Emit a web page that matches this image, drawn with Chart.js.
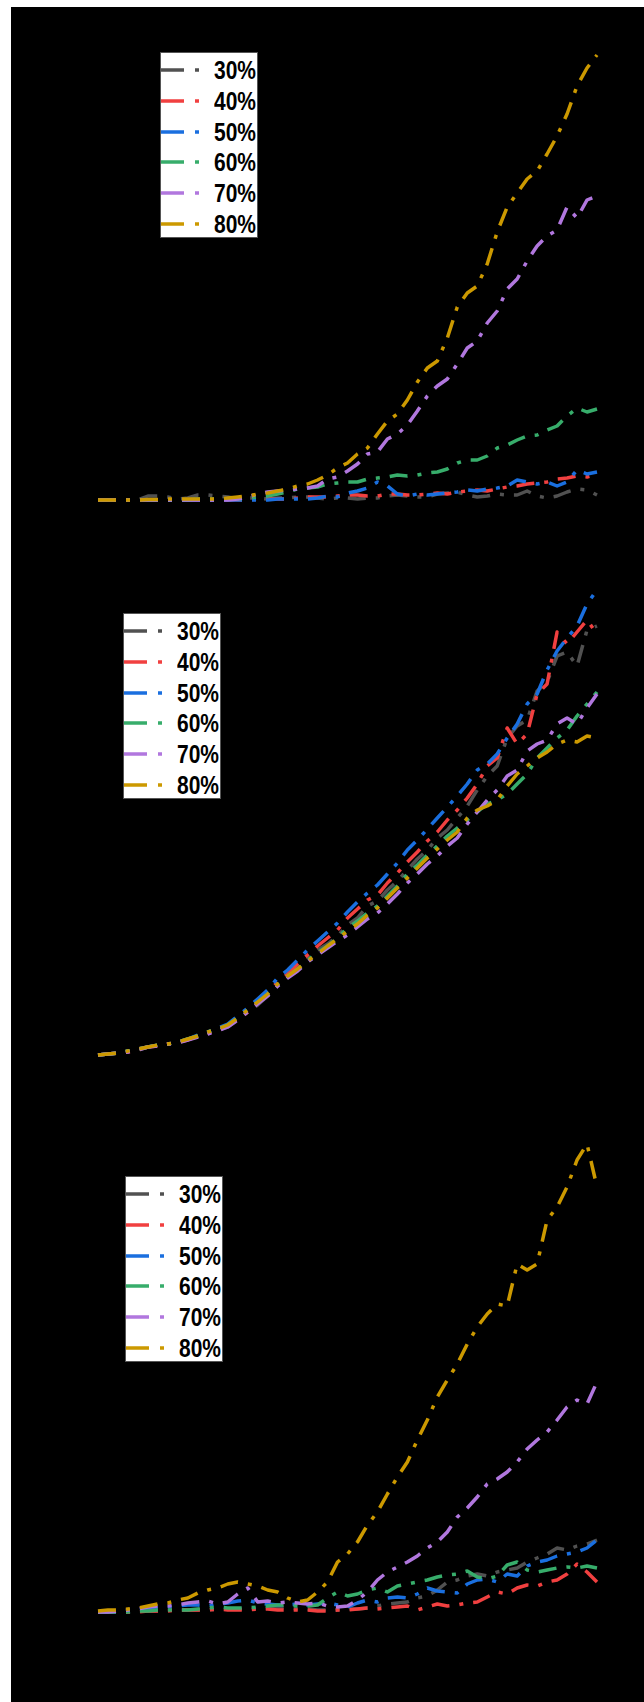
<!DOCTYPE html>
<html>
<head>
<meta charset="utf-8">
<script src="https://cdn.jsdelivr.net/npm/chart.js@4.4.1/dist/chart.umd.min.js"></script>
<style>
  html, body { margin:0; padding:0; background:#fff; width:644px; height:1702px; overflow:hidden; }
  #bg { position:absolute; left:11px; top:7px; width:633px; height:1695px; background:#000; }
  canvas.pc { position:absolute; left:0; }
  .lg { position:absolute; background:#fff; border:1px solid #555; box-sizing:border-box; width:98px; height:186px; }
  .lg svg { position:absolute; left:0; }
  .lg span { position:absolute; font-family:"Liberation Sans", Arial, sans-serif; font-weight:bold; font-size:25px; line-height:25px; color:#000; transform:scaleX(0.84); transform-origin:0 0; white-space:nowrap; }
</style>
</head>
<body>
<div id="bg"></div>
<canvas id="c1" class="pc" width="644" height="556" style="top:0px"></canvas>
<canvas id="c2" class="pc" width="644" height="556" style="top:556px"></canvas>
<canvas id="c3" class="pc" width="644" height="590" style="top:1112px"></canvas>
<script>
// ---- data ----
const steps = [0,10,20,30,40,50,60,70,80,90,100,110,120,130,140,150,160,170,180,190,200,210,220,230,240,250,260,270,280,290,300,310,320,330,340,350,360,370,380,390,400,410,420,430,440,450,460,470,480,490,500];
const seriesLabels = ["30%","40%","50%","60%","70%","80%"];
const seriesColors = ["#515151","#F14040","#1A6FDF","#37AD6B","#B177DE","#CC9900"];

// panel 1
const p1_30 = [0,0,0,0,0,4,4,3,1,2,5,5,4,3,1,2,2,1,2,2,3,3,2,1,2,2,1,2,2,4,5,4,3,3,6,7,8,5,3,4,6,5,5,9,4,2,4,8,11,10,5];
const p1_40 = [0,0,0,0,0,0,0,0,0,0,0,0,0,0,0,0,1,1,1,1,2,3,3,3,4,5,5,4,4,6,6,5,5,6,7,6,8,9,10,9,11,13,14,16,17,18,21,22,24,23,26];
const p1_50 = [0,0,0,0,0,0,0,0,0,0,0,0,0,0,0,0,0,0,1,1,1,1,2,4,3,7,9,12,18,14,6,4,6,5,6,7,8,10,9,11,12,14,20,18,16,18,14,18,30,26,28];
const p1_60 = [0,0,0,0,0,0,0,0,0,0,1,1,1,1,1,2,3,4,6,8,11,12,13,16,17,18,18,21,22,23,25,24,25,27,28,31,37,40,40,44,52,55,60,64,65,70,74,84,92,88,91];
const p1_70 = [0,0,0,0,0,0,0,0,0,0,0,0,0,0,1,3,6,8,9,10,11,12,14,21,23,29,36,46,48,61,66,75,89,104,114,121,136,152,159,177,189,211,221,239,254,264,270,293,282,300,304];
const p1_80 = [0,0,0,0,0,0.5,0.5,1,1,1,1,1,1,2,3,4,6,7,9,11,14,16,20,25,32,37,46,52,66,79,86,100,118,132,139,162,193,207,214,236,268,293,307,321,329,346,364,386,414,432,445];

// panel 2
const p2_30 = [1,2,3,5,6,9,11,12,13,17,19,23,26,29,36,44,51,60,70,79,88,97,106,112,120,131,138,150,155,166,175,186,197,206,218,226,238,250,266,280,290,318,330,336,365,374,400,404,390,426,430];
const p2_40 = [1,2,3,4,7,9,10,12,14,16,20,23,26,30,37,44,53,63,74,82,92,101,110,118,126,138,147,156,161,173,183,194,204,215,224,236,246,258,272,290,298,328,312,322,362,372,424,412,424,436,422];
const p2_50 = [1,2,3,5,7,9,11,12,14,17,21,24,28,32,40,48,57,66,78,86,96,106,115,124,133,144,154,163,171,182,193,206,216,227,238,249,260,272,286,292,302,318,332,352,362,386,405,418,430,452,466];
const p2_60 = [1,2,3,5,7,9,11,12,14,17,20,24,27,31,38,46,54,62,72,80,87,96,103,110,118,128,135,143,150,160,170,182,191,201,210,220,228,236,244,252,256,262,272,282,298,308,318,326,340,352,364];
const p2_70 = [1,2,3,4,6,9,10,12,13,16,19,22,25,29,36,44,52,60,70,78,85,94,101,108,115,121,129,137,143,152,162,173,182,192,200,210,218,232,244,256,266,280,286,305,312,316,332,338,332,348,362];
const p2_80 = [1,2,3,5,7,9,11,12,14,17,20,24,27,31,38,46,54,62,72,80,87,95,102,110,117,125,132,141,148,158,168,178,188,198,207,216,224,238,246,250,256,270,282,290,298,304,312,316,314,320,318];

// panel 3
const p3_30 = [0,0,0,0,1,1,1,2,2,2,2,2,3,3,3,3,4,4,5,4,3,3,2,2,2,3,3,4,6,8,9,10,14,16,22,30,32,36,38,36,40,42,44,50,54,58,64,62,66,68,72];
const p3_40 = [0,0,0,0,0,1,1,1,2,2,2,2,3,2,2,2,3,3,2,2,2,2,1,1,2,2,3,4,3,4,5,6,2,5,8,6,7,9,10,15,20,18,24,27,26,30,32,38,48,40,30];
const p3_50 = [0,0,0,1,2,3,4,5,6,7,7,6,8,9,11,12,9,8,7,7,8,7,8,9,7,5,9,12,10,14,15,14,18,24,21,20,19,28,32,33,30,38,36,46,50,52,56,58,60,64,72];
const p3_60 = [0,0,0,0,1,1,2,2,2,2,3,4,5,4,4,4,5,6,7,7,6,6,7,14,20,16,18,22,24,20,26,28,30,32,35,37,38,41,35,33,36,47,50,42,40,42,44,45,44,46,44];
const p3_70 = [0,0,1,2,3,5,6,6,7,9,10,11,8,10,18,24,10,11,9,10,9,8,9,6,5,6,12,20,32,40,45,50,56,64,70,80,95,104,115,128,133,140,150,163,172,180,192,205,212,208,230];
const p3_80 = [1,2,2,3,4,6,8,9,12,14,19,22,24,28,30,28,26,22,20,14,10,12,20,30,50,58,70,87,100,118,135,150,172,192,215,232,248,268,285,298,308,306,348,342,348,392,405,425,452,468,425];

// ---- charts ----
const panels = [
  { id:"c1", series:[p1_30,p1_40,p1_50,p1_60,p1_70,p1_80], yMax:460, pad:{left:98,right:47,top:40,bottom:56}, legend:{left:160, top:52} },
  { id:"c2", series:[p2_30,p2_40,p2_50,p2_60,p2_70,p2_80], yMax:470, pad:{left:98,right:47,top:30,bottom:56}, legend:{left:123, top:613} },
  { id:"c3", series:[p3_30,p3_40,p3_50,p3_60,p3_70,p3_80], yMax:470, pad:{left:98,right:47,top:30,bottom:90}, legend:{left:125, top:1176} }
];

const dash = [18, 10, 4, 10];

panels.forEach(p => {
  const datasets = p.series.map((arr, k) => ({
    label: seriesLabels[k],
    data: arr,
    borderColor: seriesColors[k],
    backgroundColor: seriesColors[k],
    borderWidth: 3.5,
    borderDash: dash,
    borderCapStyle: 'butt',
    borderJoinStyle: 'round',
    pointRadius: 0,
    tension: 0,
    fill: false,
    clip: false,
    order: 6 - k
  }));
  new Chart(document.getElementById(p.id), {
    type: 'line',
    data: { labels: steps, datasets },
    options: {
      responsive: false,
      animation: false,
      devicePixelRatio: 1,
      layout: { padding: p.pad },
      plugins: { legend: { display:false }, tooltip: { enabled:false } },
      scales: {
        x: { type:'category', display:false, offset:false },
        y: { type:'linear', display:false, min:0, max:p.yMax }
      }
    }
  });

  // HTML legend
  const box = document.createElement('div');
  box.className = 'lg';
  box.style.left = p.legend.left + 'px';
  box.style.top = p.legend.top + 'px';
  seriesLabels.forEach((lab, k) => {
    const cy = 17 + 30.8 * k;
    const svgNS = 'http://www.w3.org/2000/svg';
    const svg = document.createElementNS(svgNS, 'svg');
    svg.setAttribute('width', '42');
    svg.setAttribute('height', '8');
    svg.style.top = (cy - 4) + 'px';
    const ln = document.createElementNS(svgNS, 'line');
    ln.setAttribute('x1', '0'); ln.setAttribute('x2', '40');
    ln.setAttribute('y1', '4'); ln.setAttribute('y2', '4');
    ln.setAttribute('stroke', seriesColors[k]);
    ln.setAttribute('stroke-width', '3.5');
    ln.setAttribute('stroke-dasharray', '23 11 4 11');
    svg.appendChild(ln);
    box.appendChild(svg);
    const sp = document.createElement('span');
    sp.textContent = lab;
    sp.style.left = '53px';
    sp.style.top = (cy - 12) + 'px';
    box.appendChild(sp);
  });
  document.body.appendChild(box);
});
</script>
</body>
</html>
